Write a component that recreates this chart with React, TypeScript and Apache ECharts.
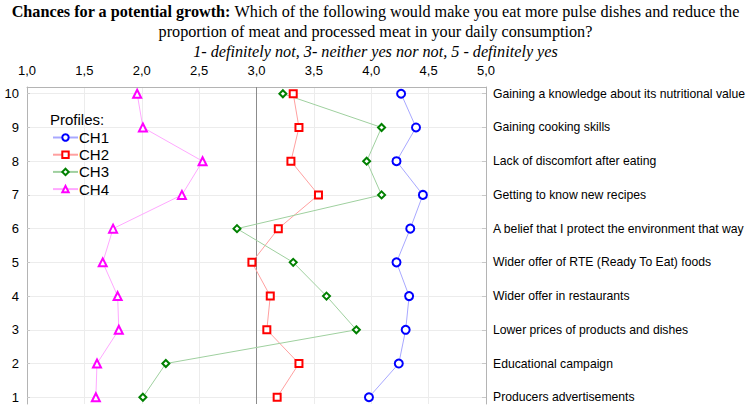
import React, { useEffect, useRef } from "react";
import * as echarts from "echarts";

const positions = [1, 2, 3, 4, 5, 6, 7, 8, 9, 10];
const statements = [
  "Producers advertisements",
  "Educational campaign",
  "Lower prices of products and dishes",
  "Wider offer in restaurants",
  "Wider offer of RTE (Ready To Eat) foods",
  "A belief that I protect the environment that way",
  "Getting to know new recipes",
  "Lack of discomfort after eating",
  "Gaining cooking skills",
  "Gaining a knowledge about its nutritional value",
];
const ch1 = [3.98, 4.24, 4.30, 4.33, 4.22, 4.34, 4.45, 4.22, 4.39, 4.26];
const ch2 = [3.18, 3.37, 3.09, 3.12, 2.96, 3.19, 3.54, 3.30, 3.37, 3.32];
const ch3 = [2.01, 2.21, 3.87, 3.61, 3.32, 2.83, 4.09, 3.96, 4.09, 3.23];
const ch4 = [1.60, 1.61, 1.80, 1.79, 1.66, 1.75, 2.35, 2.53, 2.01, 1.96];
const xTicks = [1, 1.5, 2, 2.5, 3, 3.5, 4, 4.5, 5];

const SANS = "'Liberation Sans', Arial, sans-serif";
const SERIF = "'Liberation Serif', 'Times New Roman', serif";

export default function App() {
  const ref = useRef<HTMLDivElement>(null);
  useEffect(() => {
    if (!ref.current) return;
    const chart = echarts.init(ref.current, null, { renderer: "svg" });
    const mk = (
      name: string,
      vals: number[],
      symbol: string,
      strong: string,
      light: string,
      size: number
    ) => ({
      name,
      type: "line",
      data: vals.map((v, i) => [v, positions[i]]),
      symbol,
      symbolSize: size,
      showSymbol: true,
      itemStyle: { color: strong, borderColor: strong, borderWidth: 1.5 },
      lineStyle: { color: light, width: 1 },
      emphasis: { disabled: true },
      z: 3,
    });
    const FS = 16.2;
    const option: any = {
      animation: false,
      backgroundColor: "#ffffff",
      title: {
        left: "center",
        top: 2,
        padding: 0,
        text:
          "{b|Chances for a potential growth:}{n| Which of the following would make you eat more pulse dishes and reduce the}\n{n|proportion of meat and processed meat in your daily consumption?}\n{i|1- definitely not, 3- neither yes nor not, 5 - definitely yes}",
        textStyle: {
          fontFamily: SERIF,
          fontSize: FS,
          fontWeight: "normal",
          color: "#000",
          lineHeight: 20,
          rich: {
            b: { fontFamily: SERIF, fontSize: FS, fontWeight: "bold", color: "#000", lineHeight: 20 },
            n: { fontFamily: SERIF, fontSize: FS, fontWeight: "normal", color: "#000", lineHeight: 20 },
            i: { fontFamily: SERIF, fontSize: FS, fontWeight: "normal", fontStyle: "italic", color: "#000", lineHeight: 20 },
          },
        },
      },
      graphic: [
        {
          type: "text",
          left: 50,
          top: 112,
          style: { text: "Profiles:", fontFamily: SANS, fontSize: 15, fill: "#000" },
        },
      ],
      legend: {
        orient: "vertical",
        left: 52,
        top: 130,
        itemWidth: 25,
        itemHeight: 8,
        itemGap: 2.2,
        padding: 0,
        textStyle: { fontFamily: SANS, fontSize: 15, color: "#000", padding: [0, 0, 0, -4] },
        data: ["CH1", "CH2", "CH3", "CH4"],
      },
      grid: { left: 27, right: 265, top: 87, bottom: 8, show: false, containLabel: false, outerBoundsMode: "none" },
      xAxis: {
        type: "value",
        position: "top",
        min: 1,
        max: 5,
        interval: 0.5,
        axisLine: { show: true, onZero: false, lineStyle: { color: "#b4b4b4" } },
        axisTick: { show: false },
        splitLine: { show: true, lineStyle: { color: "#ececec" } },
        axisLabel: {
          fontFamily: SANS,
          fontSize: 13,
          color: "#000",
          margin: 10,
          formatter: (v: number) => v.toFixed(1).replace(".", ","),
          customValues: xTicks,
        },
      },
      yAxis: [
        {
          type: "value",
          position: "left",
          min: 0.8,
          max: 10.2,
          axisLine: { show: true, onZero: false, lineStyle: { color: "#b4b4b4" } },
          axisTick: { show: true, customValues: positions, length: 3, inside: true, lineStyle: { color: "#c8c8c8" } },
          splitLine: { show: true, lineStyle: { color: "#ececec" } },
          axisLabel: {
            customValues: positions,
            fontFamily: SANS,
            fontSize: 13,
            color: "#000",
            margin: 8,
            formatter: (v: number) => String(Math.round(v)),
          },
        },
        {
          type: "value",
          position: "right",
          min: 0.8,
          max: 10.2,
          axisLine: { show: true, onZero: false, lineStyle: { color: "#b4b4b4" } },
          axisTick: { show: true, customValues: positions, length: 4, inside: true, lineStyle: { color: "#c8c8c8" } },
          splitLine: { show: false },
          axisLabel: {
            customValues: positions,
            fontFamily: SANS,
            fontSize: 12.2,
            color: "#000",
            margin: 7,
            formatter: (v: number) => statements[Math.round(v) - 1] ?? "",
          },
        },
      ],
      series: [
        {
          ...mk("CH1", ch1, "emptyCircle", "#0000ff", "#a8a8ff", 8),
          markLine: {
            silent: true,
            symbol: "none",
            label: { show: false },
            lineStyle: { color: "#8c8c8c", width: 1, type: "solid" },
            data: [{ xAxis: 3 }],
            z: 1,
          },
        },
        mk("CH2", ch2, "emptyRect", "#ff0000", "#ffa0a0", 7),
        mk("CH3", ch3, "emptyDiamond", "#008000", "#9fd09f", 7),
        mk("CH4", ch4, "emptyTriangle", "#ff00ff", "#ffa8ff", 8),
      ],
    };
    chart.setOption(option);
    return () => chart.dispose();
  }, []);
  return <div ref={ref} style={{ width: 751, height: 412, position: "absolute", left: 0, top: 0 }} />;
}
